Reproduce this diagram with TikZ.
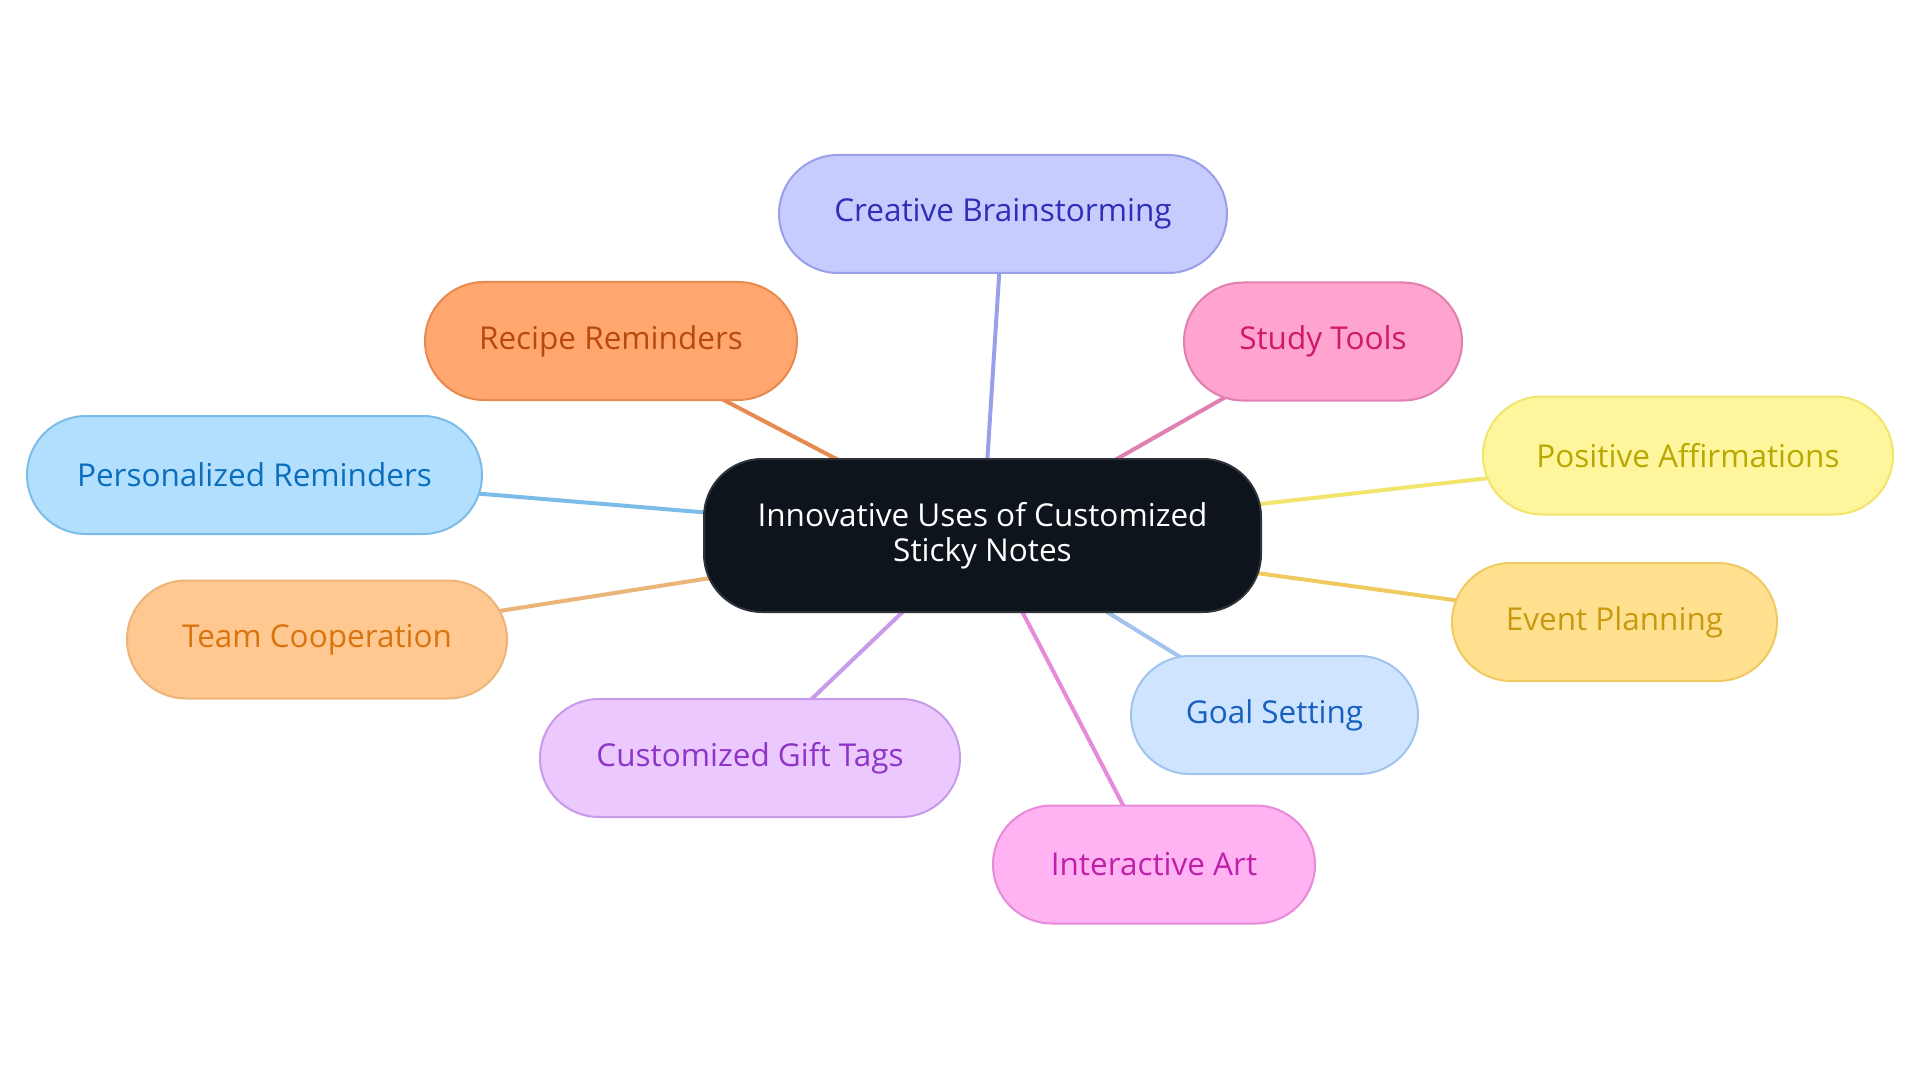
\documentclass[tikz,border=0pt]{standalone}
\usepackage{fontspec}
\setmainfont{Open Sans}
\usetikzlibrary{shapes.misc,backgrounds}
\definecolor{cfill}{HTML}{0D141C}\definecolor{cdraw}{HTML}{2E333A}
\definecolor{f1}{HTML}{C8CBFD}\definecolor{d1}{HTML}{9A9FEA}\definecolor{t1}{HTML}{2E2EB8}
\definecolor{f2}{HTML}{FFA76F}\definecolor{d2}{HTML}{E88A50}\definecolor{t2}{HTML}{B84A0E}
\definecolor{f3}{HTML}{FFA3CF}\definecolor{d3}{HTML}{E080B0}\definecolor{t3}{HTML}{D0186C}
\definecolor{f4}{HTML}{B3DFFF}\definecolor{d4}{HTML}{7BBDE8}\definecolor{t4}{HTML}{0A6EBD}
\definecolor{f5}{HTML}{FFF59D}\definecolor{d5}{HTML}{F2E56B}\definecolor{t5}{HTML}{B8A800}
\definecolor{f6}{HTML}{FFC890}\definecolor{d6}{HTML}{EBB57A}\definecolor{t6}{HTML}{D9750F}
\definecolor{f7}{HTML}{FFE08F}\definecolor{d7}{HTML}{F0CA60}\definecolor{t7}{HTML}{C89A10}
\definecolor{f8}{HTML}{CFE4FF}\definecolor{d8}{HTML}{A0C4EE}\definecolor{t8}{HTML}{1860C0}
\definecolor{f9}{HTML}{EBC9FF}\definecolor{d9}{HTML}{C89AEA}\definecolor{t9}{HTML}{8E34C8}
\definecolor{f10}{HTML}{FFB3F3}\definecolor{d10}{HTML}{E88ADA}\definecolor{t10}{HTML}{C020A8}
\tikzset{
  leaf/.style n args={4}{rounded rectangle, fill=f#1, draw=d#1, line width=2pt, text=t#1,
    minimum width=#2pt, minimum height=#3pt, inner sep=0pt, font=\fontsize{#4}{36}\selectfont},
  hub/.style={rectangle, rounded corners=58pt, fill=cfill, draw=cdraw, line width=2pt, text=white,
    minimum width=557pt, minimum height=153pt, inner sep=0pt, align=center,
    font=\fontsize{31.5}{35.5}\selectfont},
  link/.style={line width=4pt, draw=#1},
}
\begin{document}
\begin{tikzpicture}[x=1pt,y=-1pt]
\useasboundingbox (0,0) rectangle (1920,1083);
\node[hub] (c) at (982.5,535.5) {Innovative Uses of Customized\\Sticky Notes};
\node[leaf={1}{448}{118}{31.5}] (n1) at (1003,214) {Creative Brainstorming};
\node[leaf={2}{372}{118}{31.5}] (n2) at (611,341) {Recipe Reminders};
\node[leaf={3}{278}{118}{31.5}] (n3) at (1323,341.5) {Study Tools};
\node[leaf={4}{455}{118}{31.5}] (n4) at (254.5,475) {Personalized Reminders};
\node[leaf={5}{410}{118}{31.5}] (n5) at (1688,455.5) {Positive Affirmations};
\node[leaf={6}{380}{118}{31.5}] (n6) at (317,639.5) {Team Cooperation};
\node[leaf={7}{325}{118}{31.5}] (n7) at (1614.5,622) {Event Planning};
\node[leaf={8}{287}{118}{31.5}] (n8) at (1274.5,715) {Goal Setting};
\node[leaf={9}{420}{118}{31.5}] (n9) at (750,758) {Customized Gift Tags};
\node[leaf={10}{322}{118}{31.5}] (n10) at (1154,864.5) {Interactive Art};
\begin{scope}[on background layer]
\fill[white] (0,0) rectangle (1920,1083);
\draw[link=d1] (c.center) -- (n1.center);
\draw[link=d2] (c.center) -- (n2.center);
\draw[link=d3] (c.center) -- (n3.center);
\draw[link=d4] (c.center) -- (n4.center);
\draw[link=d5] (c.center) -- (n5.center);
\draw[link=d6] (c.center) -- (n6.center);
\draw[link=d7] (c.center) -- (n7.center);
\draw[link=d8] (c.center) -- (n8.center);
\draw[link=d9] (c.center) -- (n9.center);
\draw[link=d10] (c.center) -- (n10.center);
\end{scope}
\end{tikzpicture}
\end{document}
